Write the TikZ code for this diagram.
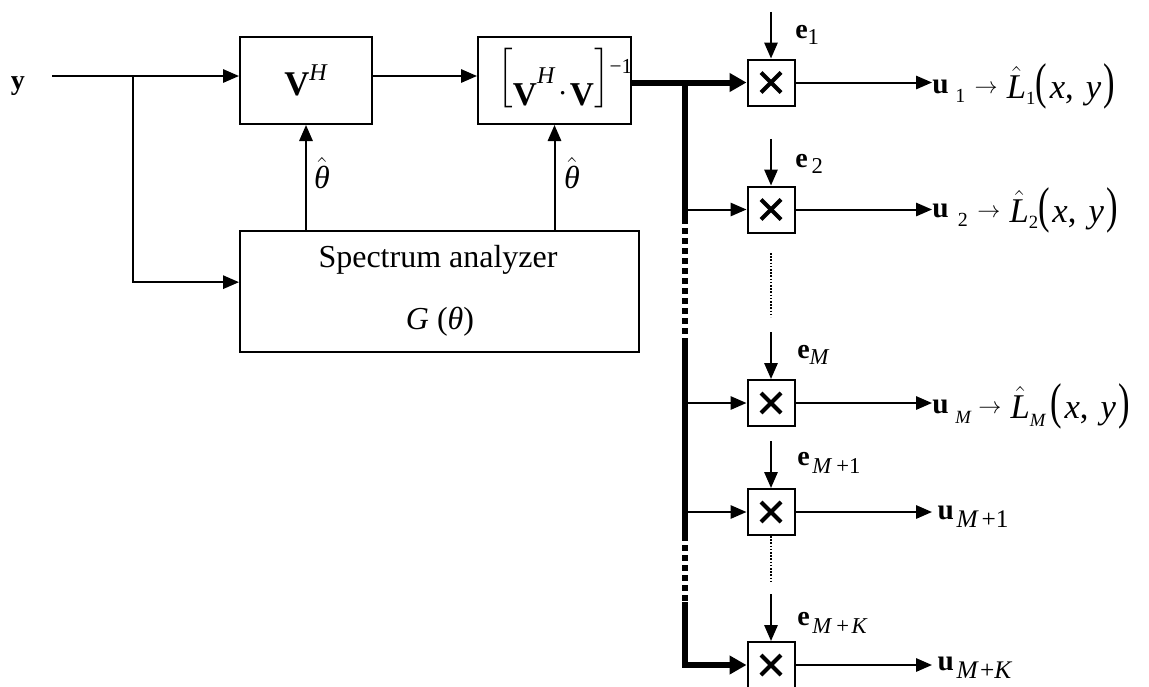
\documentclass[tikz,border=0pt]{standalone}
\usepackage{amsmath}
\usepackage{graphicx}
\usepackage{fontspec}
\setmainfont{Liberation Serif}
\usetikzlibrary{arrows.meta}
\newcommand{\tallp}[1]{\scalebox{1}[1.45]{#1}}
\newcommand{\fsz}[1]{\fontsize{#1}{#1}\selectfont}
\newcommand{\xypair}{\tallp{(}\hspace{2pt}\textit{x},\hspace{9pt}\textit{y}\hspace{2pt}\tallp{)}}
\tikzset{
  blk/.style={draw, line width=1.5pt, inner sep=0pt},
  mult/.style={draw, line width=1.5pt, inner sep=0pt, minimum width=35.25pt, minimum height=34.5pt,
    path picture={
      \draw[line width=3pt] (path picture bounding box.center) ++(-7.5pt,-7.5pt) -- ++(15pt,15pt);
      \draw[line width=3pt] (path picture bounding box.center) ++(-7.5pt,7.5pt) -- ++(15pt,-15pt);
    }},
  sig/.style={line width=1.5pt, -{Triangle[length=12pt,width=10pt]}},
  bus/.style={line width=4.5pt},
  busdash/.style={line width=4.5pt, dash pattern=on 4.5pt off 3pt},
  thin dots/.style={line width=1.2pt, dash pattern=on 1.2pt off 1.2pt},
  bigtxt/.style={font=\fsz{24}, inner sep=0pt},
  elab/.style={font=\fsz{21}, inner sep=0pt, anchor=base west},
  outlab/.style={font=\fsz{22}, inner sep=0pt, anchor=base west},
}
\begin{document}
\begin{tikzpicture}[x=0.75pt, y=-0.75pt]
\useasboundingbox (0,0) rectangle (1149,686);

% main blocks
\node[blk, font=\fsz{26}, minimum width=99pt, minimum height=65.25pt] (vh) at (306,80.5) {\textbf{V}\raisebox{11pt}{\fsz{18}\textit{H}}};
\node[blk, minimum width=114.75pt, minimum height=65.25pt] (inv) at (554.5,80.5) {};
\node[font=\fsz{25}, inner sep=0pt, anchor=base west] (invlab) at (497,105)
  {{\fsz{23}\raisebox{14pt}{$\Bigl[$}}\textbf{V}\raisebox{16pt}{\fsz{18}\textit{H}}\hspace{2pt}\raisebox{3pt}{$\cdot$}\hspace{2pt}\textbf{V}{\fsz{23}\raisebox{14pt}{$\Bigr]$}}\raisebox{24pt}{\fsz{16}−1}};
\node[blk, minimum width=299.25pt, minimum height=90.75pt] (spec) at (439.5,291.5) {};
\node[bigtxt] (spectxt) at (438,260) {Spectrum analyzer};
\node[bigtxt] (gtxt) at (440,322) {\textit{G} (\textit{θ})};

% input
\node[inner sep=0pt, font=\fsz{21}] (ylab) at (18,86) {\textbf{y}};
\coordinate (yin) at (52,76);
\coordinate (br) at (133,76);
\draw[sig] (yin) -- (vh.west |- yin);
\draw[sig] (br) |- ([yshift=7pt]spec.west);
\draw[sig] (vh.east |- yin) -- (inv.west |- yin);

% theta feedback
\draw[sig] (vh.south |- spec.north) -- (vh.south);
\draw[sig] (inv.south |- spec.north) -- (inv.south);
\node[bigtxt] (th1) at (322,173) {$\hat{\text{\itshape θ}}$};
\node[bigtxt] (th2) at (572,173) {$\hat{\text{\itshape θ}}$};

% multipliers
\node[mult] (m1) at (771,82.5) {};
\node[mult] (m2) at (771,209.5) {};
\node[mult] (m3) at (771,403) {};
\node[mult] (m4) at (771,512) {};
\node[mult] (m5) at (771,665) {};

% bus
\coordinate (busA) at (685,218);
\coordinate (busB) at (685,340);
\coordinate (busC) at (685,535);
\coordinate (busD) at (685,602);
\coordinate (busT) at (685,80);
\draw[bus, -{Triangle[length=12.75pt,width=13.5pt]}] (inv.east |- m1.west) -- (m1.west);
\draw[bus] (busT) -- (busA);
\draw[busdash] (busA) -- (busB);
\draw[bus] (busB) -- (busC);
\draw[busdash] (busC) -- (busD);
\draw[bus, -{Triangle[length=12.75pt,width=13.5pt]}] (busD) |- (m5.west);
\draw[sig] (m2.west -| busA) -- (m2.west);
\draw[sig] (m3.west -| busA) -- (m3.west);
\draw[sig] (m4.west -| busA) -- (m4.west);

% e inputs
\foreach \m in {m1,m2,m3,m4,m5}{
  \draw[sig] ([yshift=35pt]\m.north) -- (\m.north);
}
\node[elab] (e1) at (795,38) {\textbf{e}\raisebox{-5pt}{\fsz{17}1}};
\node[elab] (e2) at (795,167) {\textbf{e}\hspace{3pt}\raisebox{-5pt}{\fsz{17}2}};
\node[elab] (eM) at (797,358) {\textbf{e}\raisebox{-5pt}{\fsz{17}\textit{M}}};
\node[elab] (eM1) at (797,465) {\textbf{e}\hspace{2pt}\raisebox{-6pt}{\fsz{17}\textit{M}\hspace{3pt}+1}};
\node[elab] (eMK) at (797,625) {\textbf{e}\hspace{2pt}\raisebox{-6pt}{\fsz{17}\textit{M}\hspace{3pt}+\hspace{2pt}\textit{K}}};

% dotted continuation
\coordinate (d1a) at (771,253);
\coordinate (d1b) at (771,317);
\draw[thin dots] (d1a) -- (d1b);
\coordinate (d2b) at (771,583);
\draw[thin dots] (m4.south) -- (d2b);

% outputs
\node[outlab] (u1) at (932,93) {\textbf{u}\hspace{5pt}\raisebox{-7pt}{\fsz{15}1}\hspace{7pt}{\fsz{18}$\rightarrow$}\hspace{7pt}\raisebox{-3.75pt}{\fsz{26}$\hat{\text{\itshape L}}$\raisebox{-5pt}{\fsz{14}1}\xypair}};
\node[outlab] (u2) at (932,217) {\textbf{u}\hspace{7pt}\raisebox{-7pt}{\fsz{15}2}\hspace{7pt}{\fsz{18}$\rightarrow$}\hspace{7pt}\raisebox{-3.75pt}{\fsz{26}$\hat{\text{\itshape L}}$\raisebox{-5pt}{\fsz{14}2}\xypair}};
\node[outlab] (uM) at (932,413) {\textbf{u}\hspace{5pt}\raisebox{-8pt}{\fsz{14}\textit{M}}\hspace{5pt}{\fsz{18}$\rightarrow$}\hspace{7pt}\raisebox{-3.75pt}{\fsz{26}$\hat{\text{\itshape L}}$\raisebox{-6pt}{\fsz{14}\textit{M}}\hspace{3pt}\xypair}};
\node[outlab] (uM1) at (932,519) {\hspace{4pt}\textbf{u}\hspace{2pt}\raisebox{-6pt}{\fsz{19}\textit{M}\hspace{2pt}+1}};
\node[outlab] (uMK) at (932,670) {\hspace{4pt}\textbf{u}\hspace{2pt}\raisebox{-6pt}{\fsz{19}\textit{M}\hspace{1pt}+\textit{K}}};
\draw[sig] (m1.east) -- (m1.east -| u1.west);
\draw[sig] (m2.east) -- (m2.east -| u2.west);
\draw[sig] (m3.east) -- (m3.east -| uM.west);
\draw[sig] (m4.east) -- (m4.east -| uM1.west);
\draw[sig] (m5.east) -- (m5.east -| uMK.west);
\end{tikzpicture}
\end{document}
